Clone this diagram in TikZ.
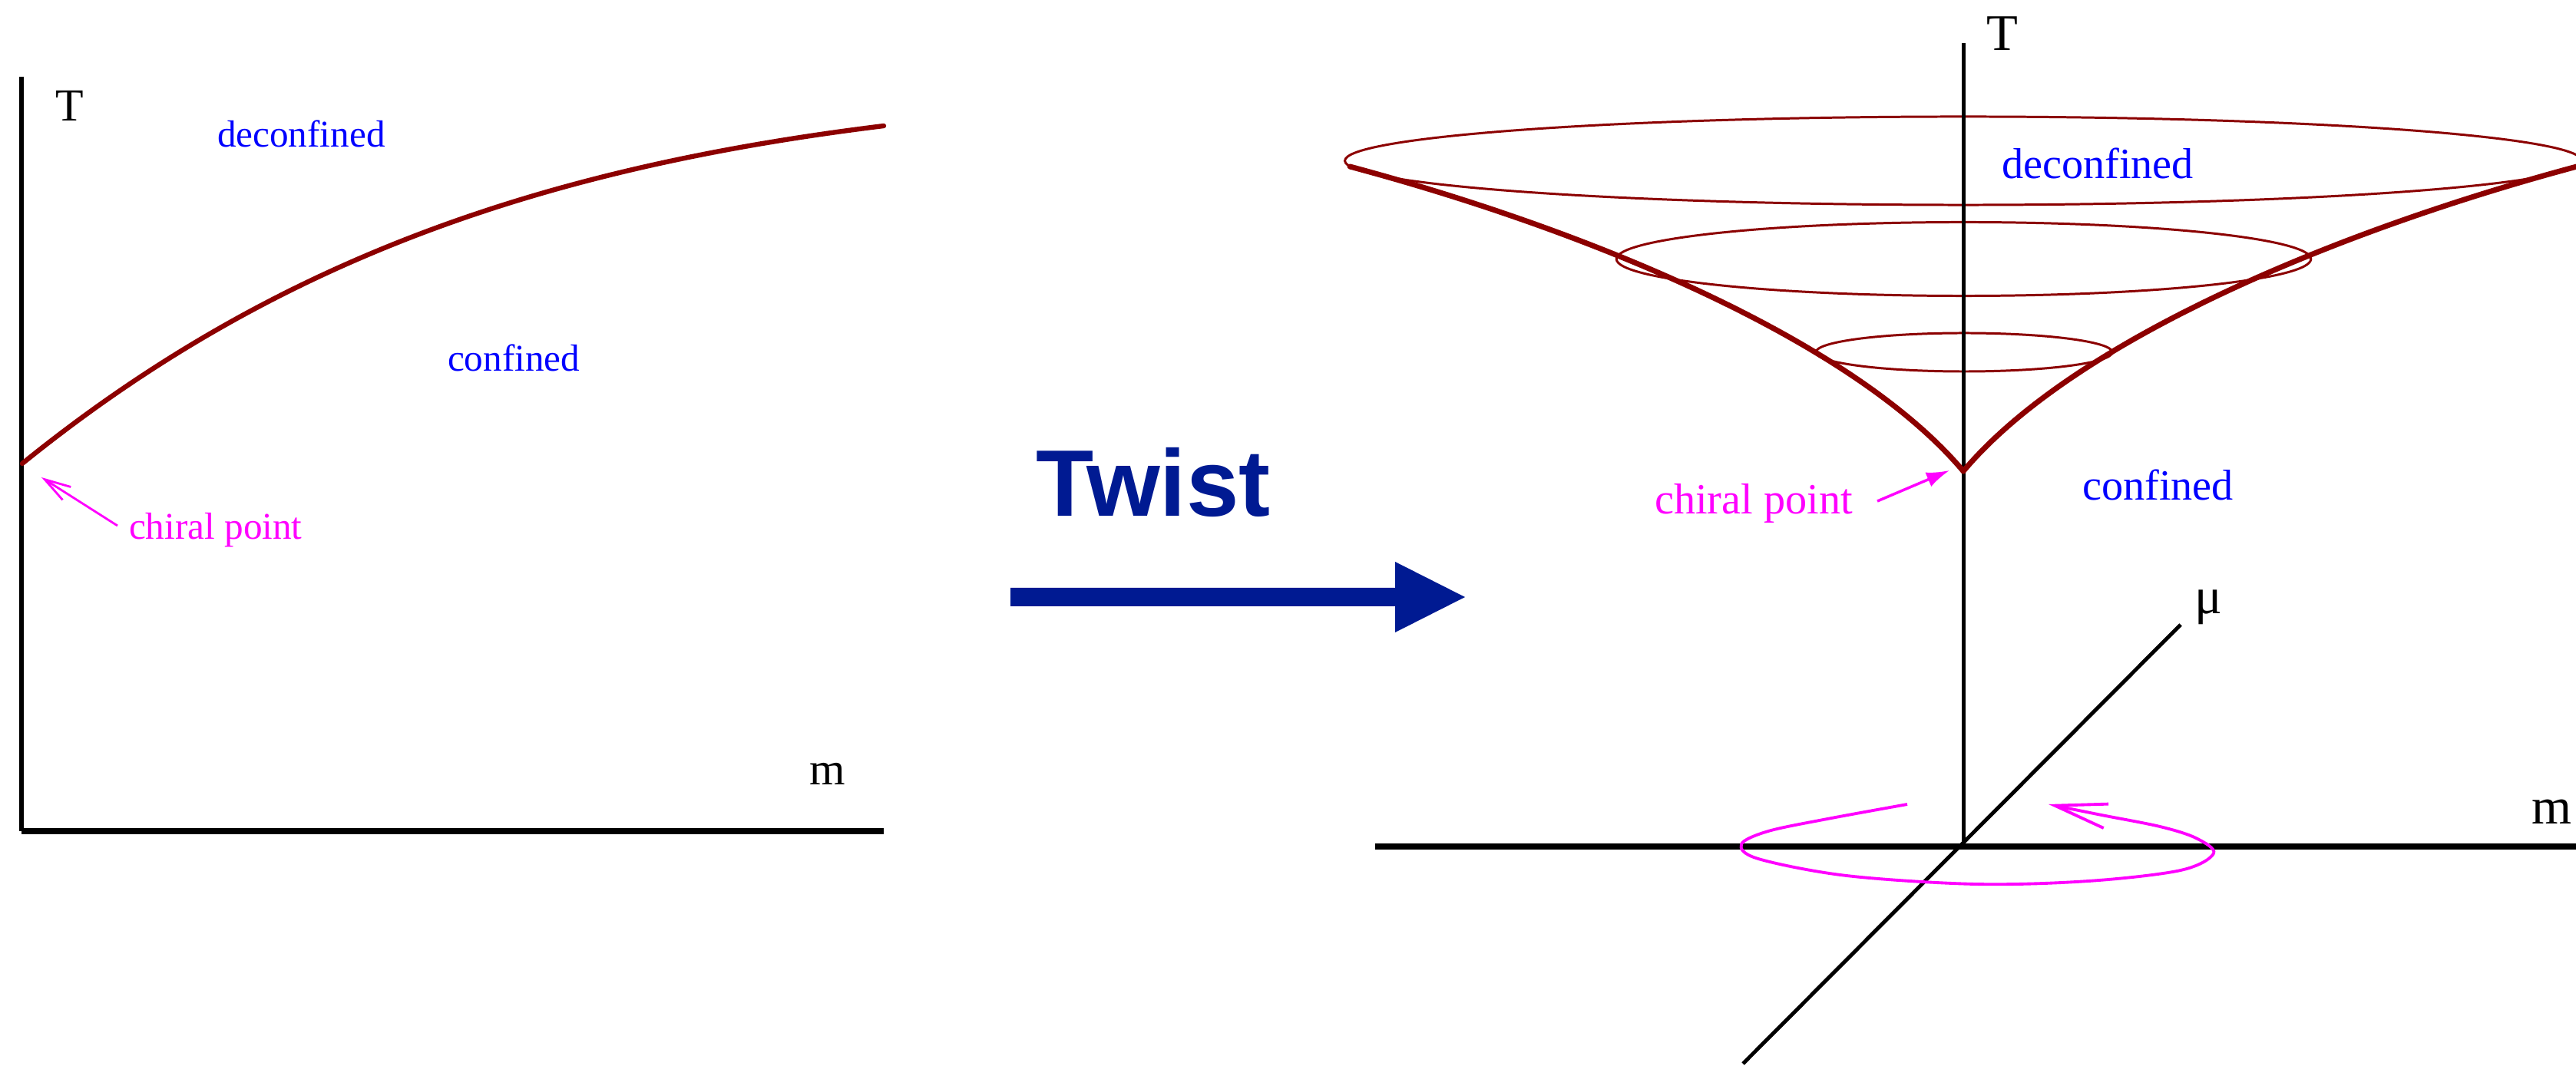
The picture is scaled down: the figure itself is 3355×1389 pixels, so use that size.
\documentclass[tikz,border=0pt]{standalone}
\usepackage{fontspec}
\setmainfont{Liberation Serif}
\newfontfamily\twistfont{Liberation Sans}
\usetikzlibrary{arrows.meta}
\definecolor{curvered}{RGB}{140,0,0}
\definecolor{lblblue}{RGB}{0,0,255}
\definecolor{lblmag}{RGB}{255,0,255}
\definecolor{twistblue}{RGB}{0,26,146}
\begin{document}
\begin{tikzpicture}[x=0.01cm,y=-0.01cm,
  lbl/.style={inner sep=0pt, outer sep=0pt, anchor=base west},
  smalltxt/.style={lbl, font=\fontsize{14}{16}\selectfont},
  bigtxt/.style={lbl, font=\fontsize{16}{19}\selectfont},
  axlblL/.style={lbl, font=\fontsize{17}{20}\selectfont},
  axlblR/.style={lbl, font=\fontsize{19}{22}\selectfont},
  axisthin/.style={draw=black, line width=1.5pt},
  axisthick/.style={draw=black, line width=2.1pt},
  phaseline/.style={draw=curvered, line width=2pt, line cap=round},
  ring/.style={draw=curvered, line width=0.85pt},
  pointer/.style={draw=lblmag, line width=0.8pt}]
\useasboundingbox (0,0) rectangle (3355,1389);
\clip (0,0) rectangle (3355,1389);

% ---------------- left panel ----------------
\coordinate (lO) at (28,1083);
\coordinate (lTtop) at (28,100);
\coordinate (lmend) at (1151,1083);
\draw[axisthin] (lTtop) -- (lO);
\draw[axisthick] (lO) -- (lmend);
\coordinate (lcp) at (29,604);
\coordinate (lcend) at (1151,164);
\draw[phaseline, line width=1.8pt] (lcp) .. controls (355,340) and (704,219) .. (lcend);

\node[axlblL] (lT) at (72,158) {T};
\node[axlblL] (lm) at (1054,1022) {m};
\node[smalltxt, text=lblblue] (ldec) at (283,192) {deconfined};
\node[smalltxt, text=lblblue] (lconf) at (583,484) {confined};
\node[smalltxt, text=lblmag] (lchi) at (168,703) {chiral point};
\coordinate (lchitail) at (153,685);
\coordinate (lchitip) at (54,622);
\draw[pointer, -{Straight Barb[length=0.34cm,width=0.2cm]}] (lchitail) -- (lchitip);

% ---------------- twist arrow ----------------
\node[lbl, font=\twistfont\bfseries\fontsize{35}{40}\selectfont, text=twistblue] (twist) at (1349,673) {Twist};
\fill[twistblue] (1316,766) -- (1817,766) -- (1817,732) -- (1908,778) -- (1817,824) -- (1817,790) -- (1316,790) -- cycle;

% ---------------- right panel ----------------
\draw[ring] (2557,209.5) ellipse [x radius=8.05cm, y radius=0.575cm];
\draw[ring] (2557.5,337.5) ellipse [x radius=4.52cm, y radius=0.48cm];
\draw[ring] (2558,459) ellipse [x radius=1.93cm, y radius=0.25cm];

\coordinate (rO) at (2557,1103);
\coordinate (rTtop) at (2557,56);
\coordinate (rmstart) at (1791,1103);
\coordinate (rmend) at (3360,1103);
\coordinate (rmutop) at (2840,814);
\coordinate (rmubot) at (2270,1386);
\draw[axisthin, line width=1.4pt] (rTtop) -- (rO);
\draw[axisthick] (rmstart) -- (rmend);
\draw[axisthin, line width=1.4pt] (rmutop) -- (rmubot);

\coordinate (rcp) at (2557,614);
\coordinate (rcleft) at (1758,217);
\coordinate (rcright) at (3356,217);
\draw[phaseline] (rcp) .. controls (2415.5,445.5) and (2076.8,302.5) .. (rcleft);
\draw[phaseline] (rcp) .. controls (2698.5,445.5) and (3037.2,302.5) .. (rcright);

\node[axlblR] (rT) at (2587,66) {T};
\node[axlblR] (rmu) at (2858,800) {μ};
\node[axlblR] (rm) at (3297,1073) {m};
\node[bigtxt, text=lblblue] (rdec) at (2607,233) {deconfined};
\node[bigtxt, text=lblblue] (rconf) at (2712,652) {confined};
\node[bigtxt, text=lblmag] (rchi) at (2155,670) {chiral point};
\coordinate (rchitail) at (2445,653);
\coordinate (rchitip) at (2539,613);
\draw[pointer, line width=1pt, -{Latex[length=0.3cm,width=0.2cm]}] (rchitail) -- (rchitip);

\draw[draw=lblmag, line width=1.1pt, -{Straight Barb[length=0.68cm,width=0.32cm]}]
  plot[smooth, tension=0.55] coordinates {(2484,1048) (2380,1067) (2303,1083)
  (2268,1100) (2290,1119) (2405,1141) (2573,1152) (2720,1148)
  (2840,1134) (2883,1112) (2860,1092) (2813,1077) (2737,1062) (2668,1048)};
\end{tikzpicture}
\end{document}
